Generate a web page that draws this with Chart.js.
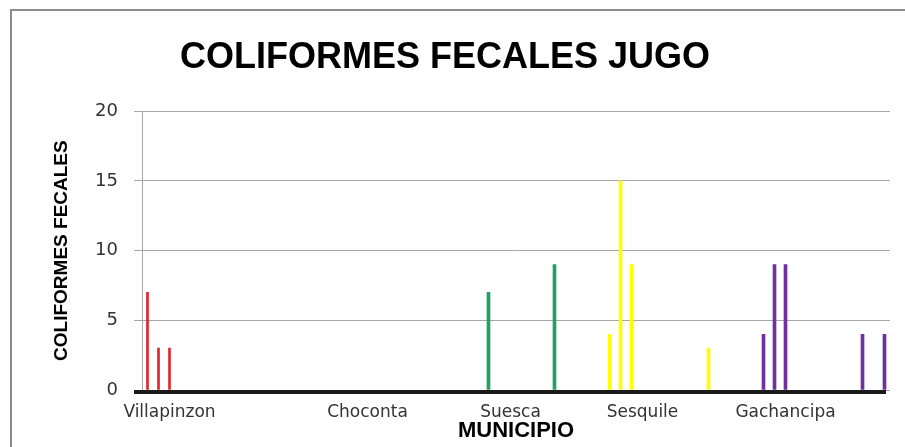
<!DOCTYPE html>
<html>
<head>
<meta charset="utf-8">
<script src="https://cdn.jsdelivr.net/npm/chart.js@4/dist/chart.umd.min.js"></script>
<style>
  html, body { margin: 0; padding: 0; background: #fff; }
  #wrap { width: 905px; height: 447px; }
</style>
</head>
<body>
<div id="wrap"><canvas id="chart" width="905" height="447"></canvas></div>
<script>
// municipalities and the slot on the x axis where each name is written
const municipios = ["Villapinzon", "Choconta", "Suesca", "Sesquile", "Gachancipa"];
const labelSlots = [2, 20, 33, 45, 58];
const slotCount = 68;

// samples: slot along the axis + coliform count
const villapinzonSlots = [0, 1, 2];
const villapinzonValues = [7, 3, 3];
const chocontaSlots = [];
const chocontaValues = [];
const suescaSlots = [31, 37];
const suescaValues = [7, 9];
const sesquileSlots = [42, 43, 44, 51];
const sesquileValues = [4, 15, 9, 3];
const gachancipaSlots = [56, 57, 58, 65, 67];
const gachancipaValues = [4, 9, 9, 4, 4];

const yTicks = [0, 5, 10, 15, 20];

const toPoints = (slots, values) => slots.map((s, i) => ({ x: s, y: values[i] }));

const series = [
  { name: "Villapinzon", slots: villapinzonSlots, values: villapinzonValues, color: "#e3242b", w: 2 },
  { name: "Choconta", slots: chocontaSlots, values: chocontaValues, color: "#1f9e5c", w: 3 },
  { name: "Suesca", slots: suescaSlots, values: suescaValues, color: "#1fa262", w: 3 },
  { name: "Sesquile", slots: sesquileSlots, values: sesquileValues, color: "#ffff00", w: 3 },
  { name: "Gachancipa", slots: gachancipaSlots, values: gachancipaValues, color: "#7030a0", w: 3 },
];

const frameAndAxis = {
  id: "frameAndAxis",
  beforeDraw(chart) {
    const ctx = chart.ctx;
    ctx.save();
    ctx.strokeStyle = "#8c8c8c";
    ctx.lineWidth = 2;
    ctx.strokeRect(11, 10, 920, 460);
    ctx.restore();
  },
  afterDatasetsDraw(chart) {
    const { ctx, chartArea } = chart;
    const y0 = chart.scales.y.getPixelForValue(0);
    ctx.save();
    ctx.strokeStyle = "#1a1a1a";
    ctx.lineWidth = 4;
    ctx.beginPath();
    ctx.moveTo(chartArea.left - 8, y0 + 2);
    ctx.lineTo(chartArea.right - 4, y0 + 2);
    ctx.stroke();
    ctx.restore();
  },
};

new Chart(document.getElementById("chart"), {
  type: "bar",
  data: {
    datasets: series.map((s) => ({
      label: s.name,
      data: toPoints(s.slots, s.values),
      backgroundColor: s.color,
      borderWidth: 0,
      barThickness: s.w,
      grouped: false,
    })),
  },
  options: {
    responsive: false,
    animation: false,
    layout: { padding: { left: 0, right: 15, top: 0, bottom: 0 } },
    plugins: {
      legend: { display: false },
      tooltip: { enabled: false },
      title: {
        display: true,
        text: "COLIFORMES FECALES JUGO",
        color: "#000",
        font: { family: "'Liberation Sans', sans-serif", size: 36, weight: "bold" },
        padding: { top: 36, bottom: 32 },
      },
    },
    scales: {
      x: {
        type: "linear",
        min: -0.5,
        max: slotCount - 0.5,
        offset: false,
        grid: { display: false, drawTicks: false },
        border: { display: false },
        afterBuildTicks: (scale) => {
          scale.ticks = labelSlots.map((v) => ({ value: v }));
        },
        afterFit: (scale) => { scale.height = 57; },
        ticks: {
          autoSkip: false,
          maxRotation: 0,
          padding: 12,
          color: "#333",
          font: { family: "'DejaVu Sans', sans-serif", size: 17 },
          callback: (v) => municipios[labelSlots.indexOf(v)] || "",
        },
        title: {
          display: true,
          text: "MUNICIPIO",
          color: "#000",
          font: { family: "'Liberation Sans', sans-serif", size: 22, weight: "bold" },
          padding: { top: 0, bottom: 3 },
        },
      },
      y: {
        min: 0,
        max: 20,
        afterBuildTicks: (scale) => {
          scale.ticks = yTicks.map((v) => ({ value: v }));
        },
        afterFit: (scale) => { scale.width = 142; },
        grid: { color: "#a6a6a6", lineWidth: 1, tickLength: 8 },
        border: { color: "#a6a6a6" },
        ticks: {
          padding: 16,
          color: "#333",
          font: { family: "'DejaVu Sans', sans-serif", size: 18 },
        },
        title: {
          display: true,
          text: "COLIFORMES FECALES",
          color: "#000",
          font: { family: "'Liberation Sans', sans-serif", size: 19, weight: "bold" },
          padding: { top: 50, bottom: 0 },
        },
      },
    },
  },
  plugins: [frameAndAxis],
});
</script>
</body>
</html>
